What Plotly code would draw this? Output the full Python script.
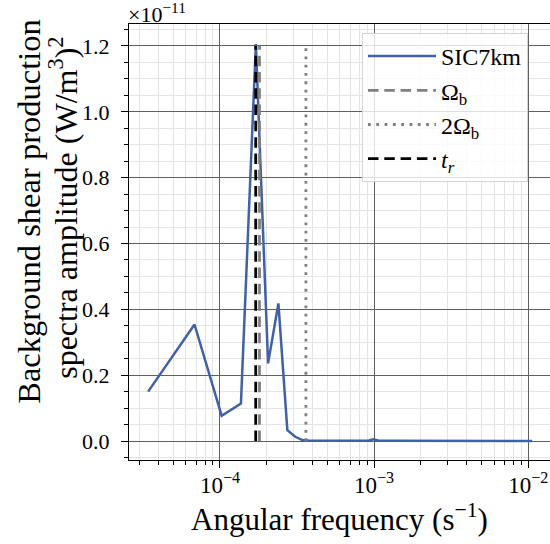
import plotly.graph_objects as go

# ---- data (amplitudes in units of 1e-11 (W/m^3)^2) ----
freq = [3.42e-5, 6.84e-5, 1.026e-4, 1.368e-4, 1.71e-4, 2.052e-4, 2.394e-4, 2.736e-4,
        3.078e-4, 3.42e-4, 3.76e-4, 4.1e-4, 4.8e-4, 6.2e-4, 8.2e-4, 9.2e-4, 9.6e-4,
        9.9e-4, 1.03e-3, 1.07e-3, 1.3e-3, 2.0e-3, 4.0e-3, 7.0e-3, 1.06e-2]
amp = [0.150, 0.354, 0.077, 0.114, 1.206, 0.236, 0.418, 0.033,
       0.013, 0.003, 0.002, 0.0015, 0.001, 0.0008, 0.0006, 0.001, 0.004,
       0.005, 0.003, 0.001, 0.0005, 0.0004, 0.0003, 0.0002, 0.0002]
omega_b = 1.805e-4
two_omega_b = 3.61e-4
t_r = 1.706e-4
vline_span = [0.0, 1.2]
yticks = [0.0, 0.2, 0.4, 0.6, 0.8, 1.0, 1.2]
ytick_labels = ["0.0", "0.2", "0.4", "0.6", "0.8", "1.0", "1.2"]
xticks = [1e-4, 1e-3, 1e-2]
xtick_labels = ["10<sup>−4</sup>", "10<sup>−3</sup>", "10<sup>−2</sup>"]
x_minor = [k * 10.0 ** e for e in (-5, -4, -3, -2) for k in range(2, 10)]

FONT = "Liberation Serif"
W, H = 550, 544
L, R, T, B = 129, 0, 24, 83.5
pw, ph = W - L - R, H - T - B

fig = go.Figure()
fig.add_trace(go.Scatter(x=freq, y=amp, mode="lines", name="SIC7km",
                         line=dict(color="#4061a9", width=2.5)))
fig.add_trace(go.Scatter(x=[omega_b, omega_b], y=vline_span, mode="lines",
                         name="Ω<sub>b</sub>",
                         line=dict(color="#808080", width=2.8, dash="10.5px,5.8px")))
fig.add_trace(go.Scatter(x=[two_omega_b, two_omega_b], y=vline_span, mode="lines",
                         name="2Ω<sub>b</sub>",
                         line=dict(color="#808080", width=2.8, dash="2.8px,5.5px")))
fig.add_trace(go.Scatter(x=[t_r, t_r], y=vline_span, mode="lines",
                         name="<i>t<sub>r</sub></i>",
                         line=dict(color="#000000", width=2.8, dash="10.5px,5.8px")))

def px2paper_y(py):
    return 1 - (py - T) / ph

def px2paper_x(px):
    return (px - L) / pw

fig.update_layout(
    width=W, height=H,
    margin=dict(l=L, r=R, t=T, b=B, pad=0),
    paper_bgcolor="white", plot_bgcolor="white",
    font=dict(family=FONT, size=22, color="black"),
    showlegend=True,
    legend=dict(x=px2paper_x(362), y=px2paper_y(33), xanchor="left", yanchor="top",
                bgcolor="rgba(255,255,255,0.8)", bordercolor="#d4d4d4", borderwidth=1,
                font=dict(family=FONT, size=24, color="black"), itemwidth=68,
                tracegroupgap=0),
    xaxis=dict(type="log", range=[-4.590, -1.859], tickvals=xticks, ticktext=xtick_labels,
               showline=True, linecolor="black", linewidth=1.3, mirror=True,
               ticks="outside", ticklen=7, tickwidth=1.2, tickcolor="black",
               showgrid=True, gridcolor="#606060", gridwidth=1.2,
               tickfont=dict(family=FONT, size=23), ticklabelstandoff=-3,
               minor=dict(tickvals=x_minor, ticks="outside", ticklen=3.5, tickwidth=1,
                          tickcolor="black", showgrid=True, gridcolor="#e4e4e4", gridwidth=1),
               title=dict(text="Angular frequency (s<sup>−1</sup>)",
                          font=dict(family=FONT, size=31), standoff=5),
               zeroline=False),
    yaxis=dict(range=[-0.0576, 1.2667], tickvals=yticks, ticktext=ytick_labels,
               showline=True, linecolor="black", linewidth=1.3, mirror=False,
               ticks="outside", ticklen=7, tickwidth=1.2, tickcolor="black",
               showgrid=True, gridcolor="#606060", gridwidth=1.2,
               tickfont=dict(family=FONT, size=22), ticklabelstandoff=7,
               minor=dict(dtick=0.05, tick0=0, ticks="outside", ticklen=4, tickwidth=1,
                          tickcolor="black", showgrid=True, gridcolor="#e4e4e4", gridwidth=1),
               zeroline=False),
    annotations=[
        dict(text="×10<sup>−11</sup>", xref="paper", yref="paper",
             x=px2paper_x(126), y=px2paper_y(29), xanchor="left", yanchor="bottom",
             showarrow=False, font=dict(family=FONT, size=22)),
        dict(text="Background shear production", xref="paper", yref="paper",
             x=px2paper_x(29), y=px2paper_y(212), xanchor="center", yanchor="middle",
             textangle=-90, showarrow=False, font=dict(family=FONT, size=32.5)),
        dict(text="spectra amplitude (W/m<sup>3</sup>)<sup>2</sup>", xref="paper", yref="paper",
             x=px2paper_x(63), y=px2paper_y(208), xanchor="center", yanchor="middle",
             textangle=-90, showarrow=False, font=dict(family=FONT, size=32)),
    ],
)

fig.write_html("out.html")
